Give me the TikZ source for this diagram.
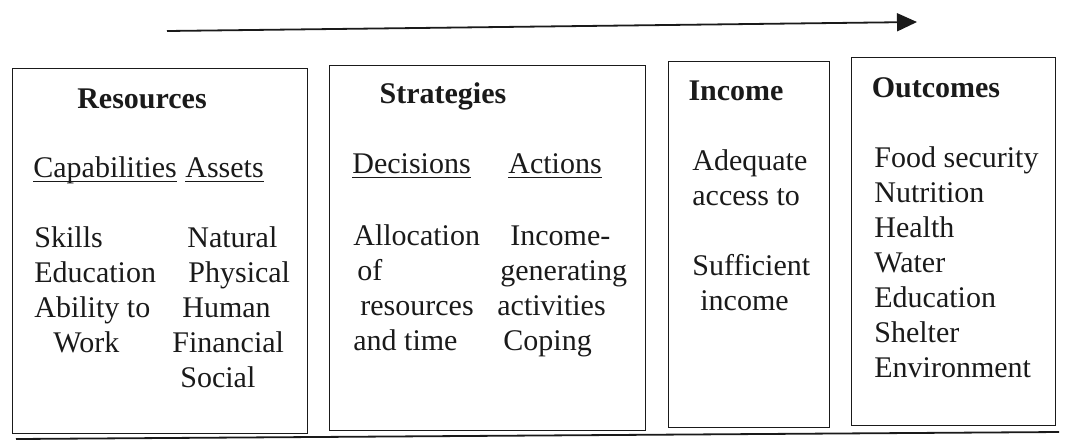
\documentclass[tikz,border=0pt]{standalone}
\usepackage{fontspec}
\setmainfont{Liberation Serif}
\usepackage{tikz}
\usetikzlibrary{arrows.meta, positioning}
\definecolor{inkblack}{HTML}{1A1A1A}
\newcommand{\figfont}{\fontsize{15}{17.5}\selectfont}
\newcommand{\ulword}[1]{\setbox0\hbox{#1}\rlap{\rule[-2.6pt]{\wd0}{0.55pt}}\box0}
\tikzset{
  panel/.style={draw=inkblack, line width=0.7pt, anchor=north west, inner sep=0pt},
  head/.style={font=\figfont\bfseries, anchor=base, inner sep=0pt, text=inkblack},
  entry/.style={anchor=base west, inner sep=0pt, text=inkblack},
  column/.style={align=left, anchor=north west, inner sep=0pt, text=inkblack},
  flow/.style={-{Triangle[length=10pt, width=9pt]}, draw=inkblack, line width=0.9pt},
  baserule/.style={draw=inkblack, line width=0.9pt}
}

\begin{document}
\begin{tikzpicture}[x=0.5pt, y=-0.5pt, every node/.style={font=\figfont}]
\useasboundingbox (0,0) rectangle (1071,441);
\node[panel, minimum width=147.5pt, minimum height=182.5pt] (resources) at (12,68) {};
\node[panel, minimum width=158pt, minimum height=182.5pt] (strategies) at (329,65) {};
\node[panel, minimum width=80.5pt, minimum height=183pt] (income) at (668,61) {};
\node[panel, minimum width=102pt, minimum height=184pt] (outcomes) at (851,57) {};

\node[head] (reshead) at (142,108) {Resources};
\node[entry] (capab) at (33,177) {\ulword{Capabilities}};
\node[entry] (assets) at (185,177) {\ulword{Assets}};
\node[column] (capablist) at (34,222.5) {\strut Skills\\Education\\Ability to\\\hspace*{9.5pt}Work};
\node[column] (assetlist) at (172,222.5) {\strut\hspace*{7.5pt}Natural\\\hspace*{8pt}Physical\\\hspace*{5pt}Human\\Financial\\\hspace*{4pt}Social};

\node[head] (strathead) at (443,103) {Strategies};
\node[entry] (decis) at (352,173) {\ulword{Decisions}};
\node[entry] (actions) at (508,173) {\ulword{Actions}};
\node[column] (decislist) at (353,220.5) {\strut Allocation\\\hspace*{2pt}of\\\hspace*{3.5pt}resources\\and time};
\node[column] (actlist) at (497,220.5) {\strut\hspace*{6.5pt}Income-\\\hspace*{1.5pt}generating\\activities\\\hspace*{3pt}Coping};

\node[head] (inchead) at (736,100) {Income};
\node[column] (inclist) at (692,145.5) {\strut Adequate\\access to\\[17.5pt]Sufficient\\\hspace*{4pt}income};

\node[head] (outhead) at (936,97) {Outcomes};
\node[column] (outlist) at (874,142.5) {\strut Food security\\Nutrition\\Health\\Water\\Education\\Shelter\\Environment};

\coordinate (flowstart) at (167,31);
\coordinate (flowend) at (917,22);
\coordinate (ruleleft) at (16,439);
\coordinate (ruleright) at (1059,432);
\draw[flow] (flowstart) -- (flowend);
\draw[baserule] (ruleleft) -- (ruleright);
\end{tikzpicture}
\end{document}
